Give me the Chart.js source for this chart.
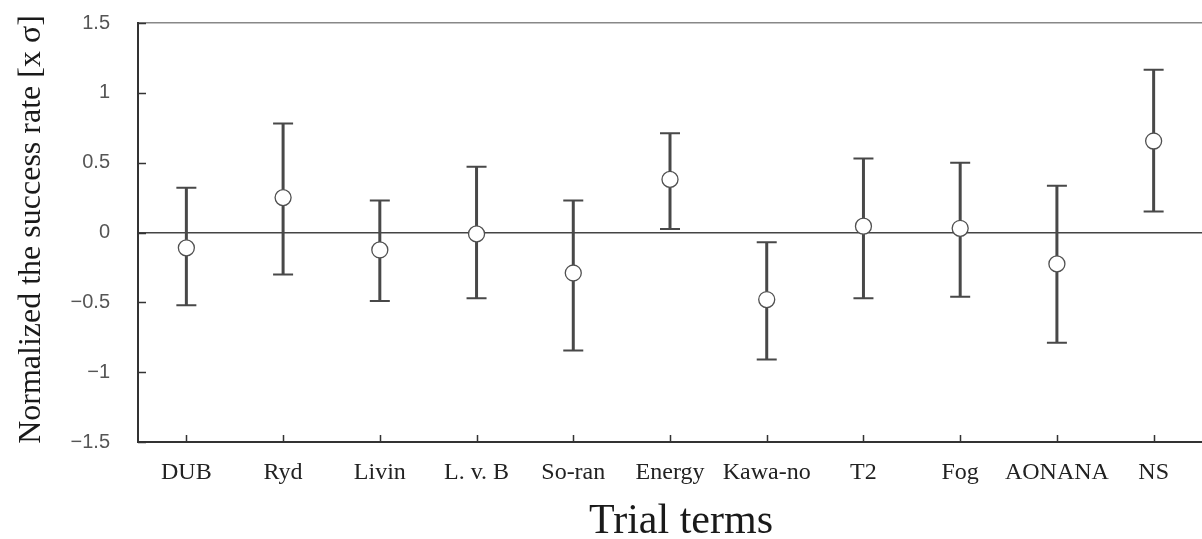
<!DOCTYPE html>
<html>
<head>
<meta charset="utf-8">
<script src="https://cdn.jsdelivr.net/npm/chart.js@4/dist/chart.umd.min.js"></script>
<style>
  html, body { margin: 0; padding: 0; background: #fff; }
  #wrap { width: 1202px; height: 539px; position: relative; }
</style>
</head>
<body>
<div id="wrap"><canvas id="c"></canvas></div>
<script>
const categories = ['DUB', 'Ryd', 'Livin', 'L. v. B', 'So-ran', 'Energy', 'Kawa-no', 'T2', 'Fog', 'AONANA', 'NS'];
const means = [-0.11, 0.25, -0.125, -0.01, -0.29, 0.38, -0.48, 0.045, 0.03, -0.225, 0.655];
const upperErr = [0.32, 0.78, 0.23, 0.47, 0.23, 0.71, -0.07, 0.53, 0.50, 0.335, 1.165];
const lowerErr = [-0.52, -0.30, -0.49, -0.47, -0.845, 0.025, -0.91, -0.47, -0.46, -0.79, 0.15];
const yMin = -1.5, yMax = 1.5, yStep = 0.5;
const xTitle = 'Trial terms';
const yTitle = 'Normalized the success rate [x \u03C3]';

const errorBars = {
  id: 'errorBars',
  beforeDatasetsDraw(chart) {
    const {ctx, scales: {x, y}} = chart;
    ctx.save();
    ctx.strokeStyle = '#484848';
    ctx.lineCap = 'butt';
    categories.forEach((c, i) => {
      const px = x.getPixelForValue(i);
      const pu = y.getPixelForValue(upperErr[i]);
      const pl = y.getPixelForValue(lowerErr[i]);
      ctx.lineWidth = 3;
      ctx.beginPath();
      ctx.moveTo(px, pu); ctx.lineTo(px, pl);
      ctx.stroke();
      ctx.lineWidth = 2;
      ctx.beginPath();
      ctx.moveTo(px - 10, pu); ctx.lineTo(px + 10, pu);
      ctx.moveTo(px - 10, pl); ctx.lineTo(px + 10, pl);
      ctx.stroke();
    });
    ctx.restore();
  }
};

const decorations = {
  id: 'decorations',
  afterDraw(chart) {
    const {ctx, chartArea: a, scales: {x, y}} = chart;
    ctx.save();
    ctx.strokeStyle = '#333';
    ctx.lineWidth = 1.5;
    ctx.beginPath();
    y.ticks.forEach(t => {
      const py = Math.round(y.getPixelForValue(t.value)) + 0.5;
      ctx.moveTo(a.left, py); ctx.lineTo(a.left + 8, py);
    });
    categories.forEach((c, i) => {
      const px = Math.round(x.getPixelForValue(i)) + 0.5;
      ctx.moveTo(px, a.bottom); ctx.lineTo(px, a.bottom - 7);
    });
    ctx.stroke();
    // axis titles
    ctx.fillStyle = '#1a1a1a';
    ctx.textAlign = 'center';
    ctx.textBaseline = 'alphabetic';
    ctx.font = '42px "Liberation Serif", "Times New Roman", serif';
    ctx.fillText(xTitle, (a.left + a.right) / 2 + 11, 533);
    ctx.translate(40, (a.top + a.bottom) / 2 - 3);
    ctx.rotate(-Math.PI / 2);
    ctx.font = '32px "Liberation Serif", "Times New Roman", serif';
    ctx.fillText(yTitle, 0, 0);
    ctx.restore();
  }
};

new Chart(document.getElementById('c'), {
  type: 'line',
  data: {
    labels: categories,
    datasets: [{
      data: means,
      showLine: false,
      pointRadius: 8,
      pointHoverRadius: 8,
      pointBackgroundColor: '#ffffff',
      pointBorderColor: '#505050',
      pointBorderWidth: 1.3,
      clip: false
    }]
  },
  options: {
    responsive: true,
    maintainAspectRatio: false,
    animation: false,
    events: [],
    layout: { autoPadding: false, padding: { top: 23, left: 0, right: 0, bottom: 0 } },
    plugins: { legend: { display: false }, tooltip: { enabled: false }, title: { display: false } },
    scales: {
      x: {
        type: 'category',
        offset: true,
        afterFit(s) { s.height = 97; s.paddingLeft = 0; s.paddingRight = 0; },
        grid: { display: false, drawTicks: false },
        border: { display: true, color: '#333', width: 2 },
        ticks: {
          padding: 16,
          color: '#222',
          font: { family: '"Liberation Serif", "Times New Roman", serif', size: 24 },
          maxRotation: 0, autoSkip: false
        }
      },
      y: {
        min: yMin, max: yMax,
        afterFit(s) { s.width = 138; s.paddingTop = 0; s.paddingBottom = 0; },
        grid: {
          drawTicks: false,
          color: ctx => ctx.tick && ctx.tick.value === 0 ? '#444' : (ctx.tick && ctx.tick.value === yMax ? '#888' : 'rgba(0,0,0,0)'),
          lineWidth: ctx => ctx.tick && ctx.tick.value === 0 ? 1.6 : 1.5
        },
        border: { display: true, color: '#333', width: 2 },
        ticks: {
          stepSize: yStep,
          padding: 28,
          color: '#555',
          font: { family: '"Liberation Sans", Arial, sans-serif', size: 20 },
          callback: v => String(v).replace('-', '\u2212')
        }
      }
    }
  },
  plugins: [errorBars, decorations]
});
</script>
</body>
</html>
